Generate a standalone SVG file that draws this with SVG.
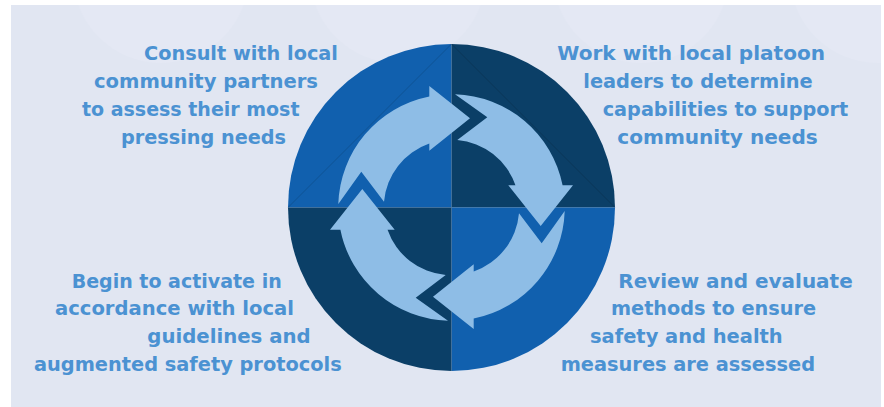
<svg xmlns="http://www.w3.org/2000/svg" xmlns:xlink="http://www.w3.org/1999/xlink" width="884" height="407" viewBox="0 0 884 407">
<style>
  .bg { fill: #E1E6F2; }
  .halo { fill: #E4E8F4; }
  .med { fill: #1160AE; }
  .dark { fill: #0B3F67; }
  .chord { stroke: #000; stroke-opacity: 0.18; stroke-width: 0.8; fill: none; }
  .arrow { fill: #8EBDE6; }
  .lbl { font-family: "DejaVu Sans", "Liberation Sans", sans-serif; font-weight: bold; font-size: 19.5px; fill: #4B92D2; }
</style>
<defs>
  <path id="arr" class="arrow" d="M338.3,204 A113.3,113.3 0 0 1 429.3,96.4 L429.3,86 L470,118.3 L429.3,150.7 L429.3,143.55 A67.7,67.7 0 0 0 384,201.7 L361.3,171.7 Z"/>
</defs>
<rect x="0" y="0" width="884" height="407" fill="#FFFFFF"/>
<rect class="bg" x="11" y="5" width="870" height="402"/>
<g id="background-circles">
  <circle class="halo" cx="161" cy="-25" r="88"/>
  <circle class="halo" cx="398" cy="-25" r="88"/>
  <circle class="halo" cx="641" cy="-25" r="88"/>
  <circle class="halo" cx="878" cy="-25" r="88"/>
  <rect x="0" y="0" width="884" height="5" fill="#FFFFFF"/>
  <rect x="0" y="0" width="11" height="407" fill="#FFFFFF"/>
  <rect x="881" y="0" width="3" height="407" fill="#FFFFFF"/>
</g>
<g id="cycle-disc">
  <path class="med" d="M451.5,207.5 L288,207.5 A163.5,163.5 0 0 1 451.5,44 Z"/>
  <path class="dark" d="M451.5,207.5 L451.5,44 A163.5,163.5 0 0 1 615,207.5 Z"/>
  <path class="med" d="M451.5,207.5 L615,207.5 A163.5,163.5 0 0 1 451.5,371 Z"/>
  <path class="dark" d="M451.5,207.5 L451.5,371 A163.5,163.5 0 0 1 288,207.5 Z"/>
  <line class="chord" x1="451.5" y1="44" x2="288" y2="207.5"/>
  <line class="chord" x1="451.5" y1="44" x2="615" y2="207.5"/>
</g>
<g id="connectors">
  <use xlink:href="#arr" href="#arr"/>
  <use xlink:href="#arr" href="#arr" transform="rotate(90 451.5 207.5)"/>
  <use xlink:href="#arr" href="#arr" transform="rotate(180 451.5 207.5)"/>
  <use xlink:href="#arr" href="#arr" transform="rotate(270 451.5 207.5)"/>
</g>
<g id="step-consult">
  <text class="lbl" x="144" y="59.5" textLength="194" lengthAdjust="spacingAndGlyphs">Consult with local</text>
  <text class="lbl" x="94" y="87.5" textLength="224" lengthAdjust="spacingAndGlyphs">community partners</text>
  <text class="lbl" x="82" y="115.5" textLength="217.5" lengthAdjust="spacingAndGlyphs">to assess their most</text>
  <text class="lbl" x="121" y="143.5" textLength="165" lengthAdjust="spacingAndGlyphs">pressing needs</text>
</g>
<g id="step-work">
  <text class="lbl" x="557.3" y="59.5" textLength="267.7" lengthAdjust="spacingAndGlyphs">Work with local platoon</text>
  <text class="lbl" x="583.3" y="87.5" textLength="229.4" lengthAdjust="spacingAndGlyphs">leaders to determine</text>
  <text class="lbl" x="602.7" y="115.5" textLength="245.6" lengthAdjust="spacingAndGlyphs">capabilities to support</text>
  <text class="lbl" x="617.3" y="143.5" textLength="200.4" lengthAdjust="spacingAndGlyphs">community needs</text>
</g>
<g id="step-review">
  <text class="lbl" x="618.3" y="287.5" textLength="234.4" lengthAdjust="spacingAndGlyphs">Review and evaluate</text>
  <text class="lbl" x="611" y="315" textLength="205" lengthAdjust="spacingAndGlyphs">methods to ensure</text>
  <text class="lbl" x="590" y="343" textLength="192.7" lengthAdjust="spacingAndGlyphs">safety and health</text>
  <text class="lbl" x="560.7" y="370.5" textLength="254.3" lengthAdjust="spacingAndGlyphs">measures are assessed</text>
</g>
<g id="step-activate">
  <text class="lbl" x="71.7" y="287.5" textLength="210" lengthAdjust="spacingAndGlyphs">Begin to activate in</text>
  <text class="lbl" x="55" y="315" textLength="239" lengthAdjust="spacingAndGlyphs">accordance with local</text>
  <text class="lbl" x="147.3" y="343" textLength="163.4" lengthAdjust="spacingAndGlyphs">guidelines and</text>
  <text class="lbl" x="34" y="370.5" textLength="307.7" lengthAdjust="spacingAndGlyphs">augmented safety protocols</text>
</g>
</svg>
